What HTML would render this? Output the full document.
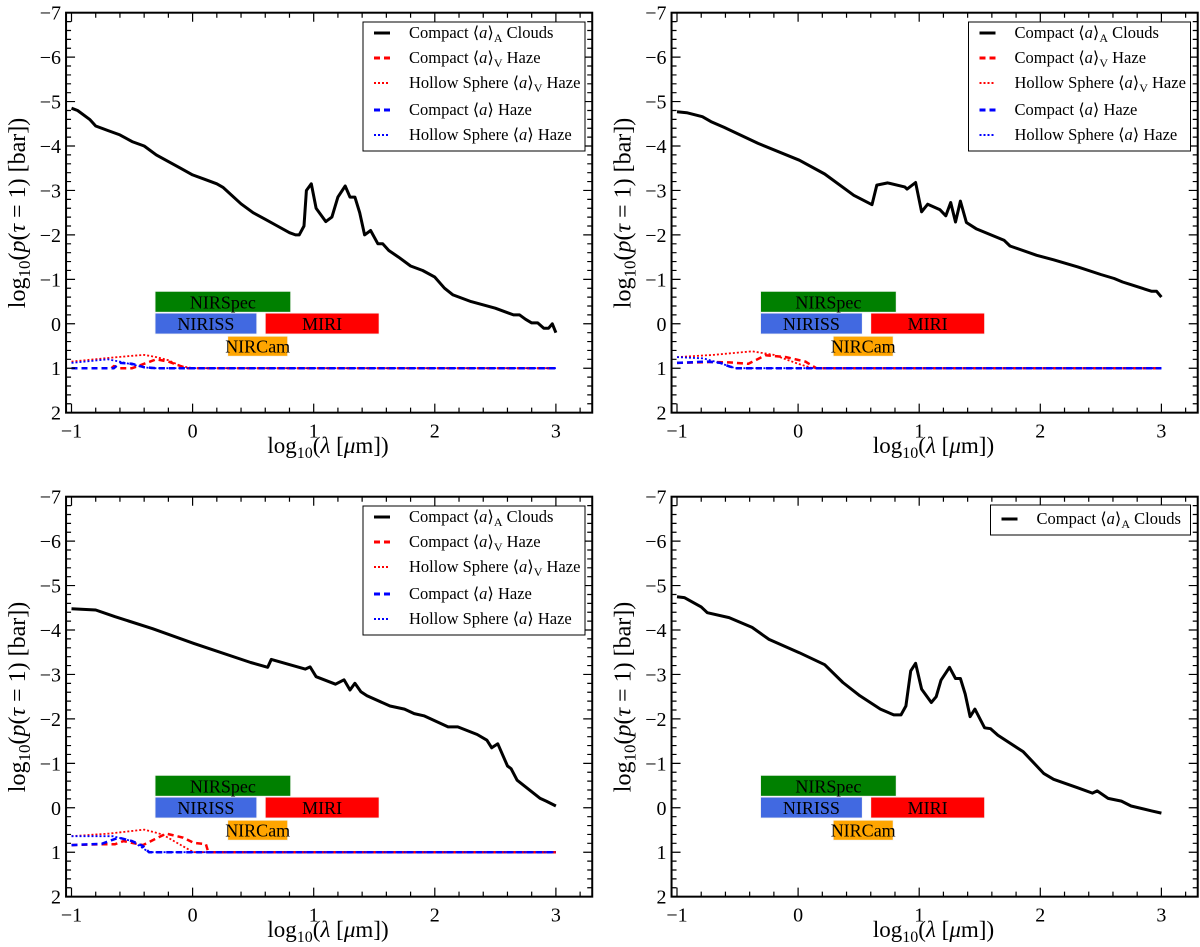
<!DOCTYPE html>
<html><head><meta charset="utf-8">
<style>
html,body{margin:0;padding:0;background:#fff;}
svg{display:block;font-family:"Liberation Serif","DejaVu Serif",serif;}
</style></head>
<body>
<svg id="fig" width="1200" height="947" viewBox="0 0 1200 947" xmlns="http://www.w3.org/2000/svg"></svg>
<script>
// ---- data ----
const xTicks = [-1, 0, 1, 2, 3];
const yTicks = [-7, -6, -5, -4, -3, -2, -1, 0, 1, 2];
const xTickLabels = ["\u22121", "0", "1", "2", "3"];
const yTickLabels = ["\u22127", "\u22126", "\u22125", "\u22124", "\u22123", "\u22122", "\u22121", "0", "1", "2"];

const p1CloudX = [-1,-0.95,-0.85,-0.8,-0.7,-0.6,-0.5,-0.4,-0.3,-0.2,-0.1,0,0.1,0.2,0.25,0.3,0.4,0.5,0.6,0.7,0.8,0.85,0.88,0.92,0.94,0.98,1.02,1.1,1.15,1.2,1.26,1.3,1.34,1.38,1.42,1.47,1.53,1.57,1.62,1.7,1.8,1.9,2.0,2.08,2.15,2.3,2.5,2.65,2.7,2.75,2.8,2.85,2.9,2.94,2.97,3.0];
const p1CloudY = [-4.85,-4.8,-4.6,-4.45,-4.35,-4.25,-4.1,-4.0,-3.8,-3.65,-3.5,-3.35,-3.25,-3.15,-3.07,-2.95,-2.7,-2.5,-2.35,-2.2,-2.05,-2.0,-2.0,-2.2,-3.0,-3.15,-2.6,-2.3,-2.4,-2.85,-3.1,-2.85,-2.85,-2.5,-2.0,-2.1,-1.8,-1.8,-1.65,-1.5,-1.3,-1.2,-1.05,-0.8,-0.65,-0.5,-0.35,-0.2,-0.2,-0.1,-0.02,-0.02,0.1,0.1,0.0,0.2];
const p1RedDashX = [-1,-0.67,-0.65,-0.6,-0.5,-0.45,-0.3,-0.2,-0.1,-0.05,3];
const p1RedDashY = [1,1,0.95,1.0,1.0,0.95,0.8,0.85,0.95,1.0,1];
const p1RedDotX = [-1,-0.7,-0.5,-0.4,-0.3,-0.2,-0.1,0,3];
const p1RedDotY = [0.85,0.77,0.72,0.7,0.75,0.82,0.95,1,1];
const p1BlueDashX = [-1,-0.65,-0.6,-0.5,-0.4,-0.3,3];
const p1BlueDashY = [1,1,0.88,0.9,0.98,1,1];
const p1BlueDotX = [-1,-0.7,-0.6,-0.45,-0.35,3];
const p1BlueDotY = [0.88,0.8,0.85,0.95,1,1];

const p2CloudX = [-1,-0.92,-0.79,-0.72,-0.61,-0.33,0.01,0.22,0.46,0.61,0.65,0.74,0.88,0.9,0.97,1.02,1.07,1.17,1.22,1.26,1.3,1.34,1.39,1.47,1.7,1.75,1.97,2.11,2.31,2.5,2.61,2.68,2.75,2.92,2.96,3.0];
const p2CloudY = [-4.77,-4.75,-4.66,-4.55,-4.42,-4.06,-3.68,-3.37,-2.89,-2.68,-3.12,-3.17,-3.08,-3.03,-3.18,-2.52,-2.69,-2.57,-2.43,-2.73,-2.29,-2.76,-2.28,-2.14,-1.88,-1.75,-1.54,-1.44,-1.28,-1.11,-1.02,-0.94,-0.88,-0.73,-0.73,-0.6];
const p2RedDashX = [-1,-0.72,-0.57,-0.41,-0.27,-0.1,0.06,0.15,3];
const p2RedDashY = [0.88,0.86,0.87,0.9,0.71,0.75,0.85,1.0,1];
const p2RedDotX = [-1,-0.7,-0.38,-0.2,0,0.12,3];
const p2RedDotY = [0.75,0.7,0.62,0.7,0.9,1.0,1];
const p2BlueDashX = [-1,-0.75,-0.64,-0.57,-0.51,3];
const p2BlueDashY = [0.88,0.85,0.88,0.96,1.0,1];
const p2BlueDotX = [-1,-0.78,-0.64,-0.52,3];
const p2BlueDotY = [0.75,0.78,0.89,1.0,1];

const p3CloudX = [-1,-0.8,-0.64,-0.33,0.01,0.48,0.62,0.65,0.93,0.97,1.02,1.18,1.25,1.3,1.34,1.39,1.44,1.63,1.75,1.83,1.91,2.11,2.19,2.35,2.43,2.47,2.52,2.6,2.63,2.68,2.87,2.92,3.0];
const p3CloudY = [-4.48,-4.45,-4.3,-4.03,-3.7,-3.27,-3.16,-3.34,-3.12,-3.17,-2.95,-2.78,-2.88,-2.65,-2.8,-2.61,-2.52,-2.29,-2.22,-2.12,-2.07,-1.82,-1.82,-1.65,-1.52,-1.35,-1.44,-0.94,-0.88,-0.62,-0.21,-0.15,-0.04];
const p3RedDashX = [-1,-0.75,-0.64,-0.57,-0.41,-0.22,-0.08,0.01,0.11,0.13,3];
const p3RedDashY = [0.84,0.82,0.82,0.75,0.84,0.58,0.67,0.79,0.82,1.0,1];
const p3RedDotX = [-1,-0.69,-0.4,-0.25,-0.02,0.01,3];
const p3RedDotY = [0.64,0.58,0.49,0.6,0.96,1.0,1];
const p3BlueDashX = [-1,-0.75,-0.61,-0.5,-0.41,-0.36,3];
const p3BlueDashY = [0.84,0.81,0.67,0.75,0.86,1.0,1];
const p3BlueDotX = [-1,-0.66,-0.5,-0.36,3];
const p3BlueDotY = [0.64,0.64,0.75,1.0,1];

const p4CloudX = [-1,-0.94,-0.8,-0.75,-0.57,-0.38,-0.24,0.01,0.22,0.37,0.51,0.68,0.79,0.85,0.89,0.93,0.97,1.02,1.1,1.14,1.18,1.25,1.3,1.34,1.38,1.42,1.46,1.54,1.59,1.65,1.86,2.03,2.11,2.31,2.43,2.47,2.56,2.67,2.75,2.92,3.0];
const p4CloudY = [-4.75,-4.73,-4.52,-4.39,-4.28,-4.06,-3.79,-3.49,-3.22,-2.82,-2.52,-2.22,-2.09,-2.09,-2.29,-3.08,-3.25,-2.67,-2.37,-2.5,-2.87,-3.16,-2.91,-2.91,-2.56,-2.05,-2.22,-1.8,-1.78,-1.63,-1.26,-0.77,-0.64,-0.45,-0.33,-0.38,-0.21,-0.15,-0.04,0.07,0.12];

const instNames = ["NIRSpec", "NIRISS", "MIRI", "NIRCam"];
const instXmin = [-0.31, -0.31, 0.60, 0.29];
const instXmax = [0.81, 0.53, 1.54, 0.785];
const instYtop = [-0.73, -0.24, -0.24, 0.28];
const instYbot = [-0.26, 0.23, 0.23, 0.73];
const instColors = ["#008000", "#4169e1", "#ff0000", "#ffa500"];

// ---- drawing ----
const NS = "http://www.w3.org/2000/svg";
const svg = document.getElementById("fig");
function mk(tag, attrs, parent) {
  const e = document.createElementNS(NS, tag);
  for (const k in attrs) e.setAttribute(k, attrs[k]);
  (parent || svg).appendChild(e);
  return e;
}
const XMIN = -1.045, XMAX = 3.30, YMIN = -7, YMAX = 2;

function drawPanel(id, ox, oy, clouds, hazes, fullLegend) {
  const g = mk("g", {});
  
  
  const sx = x => ox + 71.5 + (x + 1) * 121.1;
  const sy = y => oy + 12.7 + (y + 7) * 44.44;
  const L = sx(XMIN), R = sx(XMAX), T = sy(YMIN), B = sy(YMAX);

  for (let i = 0; i < instNames.length; i++) {
    const r = mk("rect", {x: sx(instXmin[i]), y: sy(instYtop[i]), width: sx(instXmax[i]) - sx(instXmin[i]), height: sy(instYbot[i]) - sy(instYtop[i]), fill: instColors[i], stroke: "#f4f4f4", "stroke-width": 0.8}, g);
    
    
    const t = mk("text", {x: (sx(instXmin[i]) + sx(instXmax[i])) / 2, y: (sy(instYtop[i]) + sy(instYbot[i])) / 2 + 6.5, "text-anchor": "middle", "font-size": 18, fill: "#000"}, g);
    t.textContent = instNames[i];
    
    
  }

  function line(xs, ys, color, width, dash, name) {
    let d = "";
    for (let i = 0; i < xs.length; i++) d += (i ? "L" : "M") + sx(xs[i]).toFixed(1) + " " + sy(ys[i]).toFixed(1);
    const p = mk("path", {d: d, fill: "none", stroke: color, "stroke-width": width, "stroke-linejoin": "round"}, g);
    if (dash) p.setAttribute("stroke-dasharray", dash);
    
    
  }
  if (hazes) {
    line(hazes[0], hazes[1], "#ff0000", 2.5, "6 4", "compact-av-haze-line");
    line(hazes[2], hazes[3], "#ff0000", 1.8, "2 2", "hollow-av-haze-line");
    line(hazes[4], hazes[5], "#0000ff", 2.5, "6 4", "compact-a-haze-line");
    line(hazes[6], hazes[7], "#0000ff", 1.8, "2 2", "hollow-a-haze-line");
  }
  line(clouds[0], clouds[1], "#000", 3, null, "compact-aa-clouds-line");

  const fr = mk("rect", {x: L, y: T, width: R - L, height: B - T, fill: "none", stroke: "#000", "stroke-width": 2}, g);
  
  
  let td = "";
  for (let k = -5; k <= 16; k++) {
    const v = k / 5;
    if (v < XMIN || v > XMAX) continue;
    const major = k % 5 === 0;
    const len = major ? 9 : 5;
    const px = sx(v);
    td += `M${px} ${B}v${-len}M${px} ${T}v${len}`;
  }
  for (let k = -35; k <= 10; k++) {
    const v = k / 5;
    const major = k % 5 === 0;
    const len = major ? 9 : 5;
    const py = sy(v);
    td += `M${L} ${py}h${len}M${R} ${py}h${-len}`;
  }
  const tk = mk("path", {d: td, stroke: "#000", "stroke-width": 1.2, fill: "none"}, g);
  
  

  for (let i = 0; i < xTicks.length; i++) {
    const t = mk("text", {x: sx(xTicks[i]), y: B + 25, "text-anchor": "middle", "font-size": 20}, g);
    t.textContent = xTickLabels[i];
    
    
  }
  for (let i = 0; i < yTicks.length; i++) {
    const t = mk("text", {x: L - 5, y: sy(yTicks[i]) + 7, "text-anchor": "end", "font-size": 20}, g);
    t.textContent = yTickLabels[i];
    
    
  }
  const xt = mk("text", {x: ox + 328, y: oy + 453, "text-anchor": "middle", "font-size": 23}, g);
  xt.innerHTML = 'log<tspan font-size="16" dy="5">10</tspan><tspan dy="-5">(</tspan><tspan font-style="italic">λ</tspan> [<tspan font-style="italic">μ</tspan>m])';
  
  
  const yt = mk("text", {x: 0, y: 0, "text-anchor": "middle", "font-size": 24, transform: `translate(${ox + 25},${oy + 213}) rotate(-90)`}, g);
  yt.innerHTML = 'log<tspan font-size="17" dy="5">10</tspan><tspan dy="-5">(</tspan><tspan font-style="italic">p</tspan>(<tspan font-style="italic">τ</tspan> = 1) [bar])';
  
  

  const lg = mk("g", {}, g);
  
  
  const entries = fullLegend ? [
    ["#000", 3, null, 'Compact ⟨<tspan font-style="italic">a</tspan>⟩<tspan font-size="12" dy="4">A</tspan><tspan dy="-4"> Clouds</tspan>'],
    ["#ff0000", 3, "6 4", 'Compact ⟨<tspan font-style="italic">a</tspan>⟩<tspan font-size="12" dy="4">V</tspan><tspan dy="-4"> Haze</tspan>'],
    ["#ff0000", 2, "2 2", 'Hollow Sphere ⟨<tspan font-style="italic">a</tspan>⟩<tspan font-size="12" dy="4">V</tspan><tspan dy="-4"> Haze</tspan>'],
    ["#0000ff", 3, "6 4", 'Compact ⟨<tspan font-style="italic">a</tspan>⟩ Haze'],
    ["#0000ff", 2, "2 2", 'Hollow Sphere ⟨<tspan font-style="italic">a</tspan>⟩ Haze']
  ] : [["#000", 3, null, 'Compact ⟨<tspan font-style="italic">a</tspan>⟩<tspan font-size="12" dy="4">A</tspan><tspan dy="-4"> Clouds</tspan>']];
  let lx, ly, lw, lh, rowY;
  if (fullLegend) { lx = ox + 363; ly = oy + 22; lw = 222; lh = 129; rowY = [33, 58, 83, 110, 135]; }
  else { lx = ox + 385; ly = oy + 21; lw = 200; lh = 30; rowY = [35]; }
  mk("rect", {x: lx, y: ly, width: lw, height: lh, fill: "#fff", stroke: "#000", "stroke-width": 1}, lg);
  for (let i = 0; i < entries.length; i++) {
    const e = entries[i];
    const yy = oy + rowY[i];
    const ln = mk("line", {x1: lx + 11, x2: lx + 27, y1: yy, y2: yy, stroke: e[0], "stroke-width": e[1]}, lg);
    if (e[2]) ln.setAttribute("stroke-dasharray", e[2]);
    
    
    const t = mk("text", {x: lx + 46, y: yy + 5, "font-size": 16.5}, lg);
    t.innerHTML = e[3];
    
    
  }
}

drawPanel("top-left", 0, 0, [p1CloudX, p1CloudY], [p1RedDashX, p1RedDashY, p1RedDotX, p1RedDotY, p1BlueDashX, p1BlueDashY, p1BlueDotX, p1BlueDotY], true);
drawPanel("top-right", 605.5, 0, [p2CloudX, p2CloudY], [p2RedDashX, p2RedDashY, p2RedDotX, p2RedDotY, p2BlueDashX, p2BlueDashY, p2BlueDotX, p2BlueDotY], true);
drawPanel("bottom-left", 0, 484, [p3CloudX, p3CloudY], [p3RedDashX, p3RedDashY, p3RedDotX, p3RedDotY, p3BlueDashX, p3BlueDashY, p3BlueDotX, p3BlueDotY], true);
drawPanel("bottom-right", 605.5, 484, [p4CloudX, p4CloudY], null, false);
</script>
</body></html>
